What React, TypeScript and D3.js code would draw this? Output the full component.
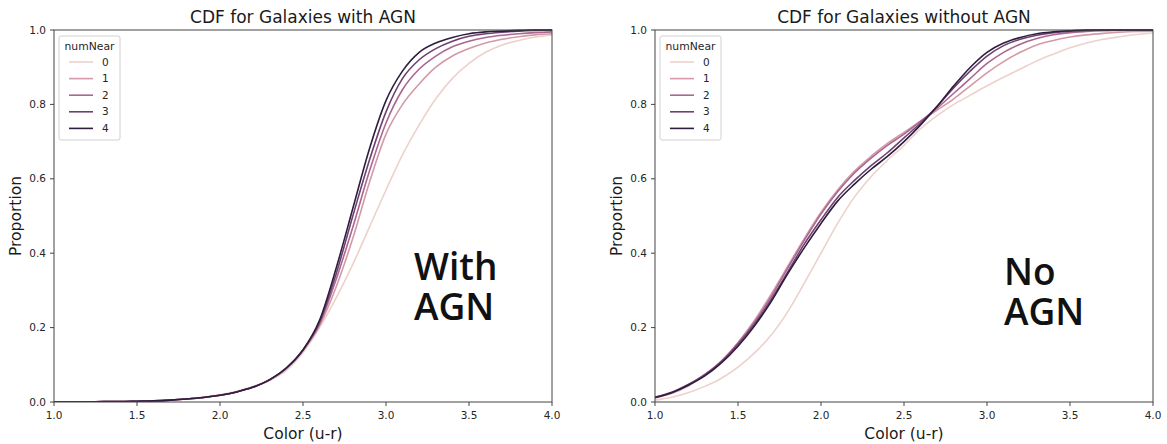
import React from "react";
import * as d3 from "d3";

const XS = [1.0, 1.1, 1.2, 1.3, 1.4, 1.5, 1.6, 1.7, 1.8, 1.9, 2.0, 2.1, 2.2, 2.3, 2.4, 2.5, 2.6, 2.7, 2.8, 2.9, 3.0, 3.1, 3.2, 3.3, 3.4, 3.5, 3.6, 3.7, 3.8, 3.9, 4.0];
const HUE_LEVELS = ["0", "1", "2", "3", "4"];
const X_TICKS = [1.0, 1.5, 2.0, 2.5, 3.0, 3.5, 4.0];
const Y_TICKS = [0.0, 0.2, 0.4, 0.6, 0.8, 1.0];

// CDF for galaxies with AGN
const AGN_0 = [0, 0, 0, 0.001, 0.001, 0.002, 0.003, 0.005, 0.008, 0.013, 0.02, 0.029, 0.042, 0.058, 0.085, 0.133, 0.2, 0.28, 0.37, 0.47, 0.57, 0.665, 0.745, 0.815, 0.87, 0.91, 0.94, 0.96, 0.972, 0.981, 0.987];
const AGN_1 = [0, 0, 0, 0.001, 0.001, 0.002, 0.003, 0.005, 0.008, 0.012, 0.018, 0.027, 0.04, 0.06, 0.09, 0.138, 0.205, 0.31, 0.44, 0.59, 0.72, 0.8, 0.855, 0.9, 0.93, 0.95, 0.965, 0.975, 0.982, 0.987, 0.99];
const AGN_2 = [0, 0, 0, 0.001, 0.001, 0.002, 0.003, 0.005, 0.008, 0.012, 0.018, 0.027, 0.04, 0.06, 0.09, 0.14, 0.21, 0.33, 0.47, 0.62, 0.75, 0.84, 0.895, 0.93, 0.955, 0.97, 0.98, 0.986, 0.99, 0.993, 0.995];
const AGN_3 = [0, 0, 0, 0.001, 0.001, 0.002, 0.003, 0.005, 0.008, 0.012, 0.018, 0.027, 0.04, 0.06, 0.091, 0.14, 0.215, 0.345, 0.5, 0.65, 0.78, 0.87, 0.92, 0.95, 0.97, 0.983, 0.99, 0.994, 0.997, 0.999, 1.0];
const AGN_4 = [0, 0, 0, 0.001, 0.001, 0.002, 0.003, 0.005, 0.008, 0.012, 0.018, 0.027, 0.04, 0.06, 0.092, 0.14, 0.22, 0.36, 0.52, 0.68, 0.81, 0.89, 0.94, 0.965, 0.98, 0.99, 0.995, 0.997, 0.999, 1.0, 1.0];

// CDF for galaxies without AGN
const NO_0 = [0.005, 0.013, 0.025, 0.042, 0.064, 0.094, 0.132, 0.18, 0.243, 0.32, 0.4, 0.48, 0.55, 0.605, 0.65, 0.69, 0.735, 0.77, 0.8, 0.825, 0.85, 0.873, 0.895, 0.917, 0.935, 0.952, 0.965, 0.975, 0.982, 0.988, 0.992];
const NO_1 = [0.011, 0.023, 0.043, 0.072, 0.11, 0.16, 0.22, 0.29, 0.365, 0.44, 0.51, 0.57, 0.62, 0.66, 0.695, 0.725, 0.755, 0.785, 0.815, 0.85, 0.885, 0.915, 0.94, 0.96, 0.972, 0.981, 0.987, 0.991, 0.994, 0.996, 0.997];
const NO_2 = [0.012, 0.025, 0.046, 0.074, 0.11, 0.158, 0.215, 0.283, 0.36, 0.435, 0.505, 0.565, 0.615, 0.655, 0.69, 0.72, 0.755, 0.79, 0.83, 0.87, 0.91, 0.94, 0.962, 0.977, 0.987, 0.993, 0.996, 0.998, 0.999, 1.0, 1.0];
const NO_3 = [0.013, 0.026, 0.047, 0.073, 0.108, 0.155, 0.21, 0.275, 0.35, 0.425, 0.49, 0.55, 0.595, 0.635, 0.67, 0.71, 0.75, 0.795, 0.845, 0.89, 0.93, 0.958, 0.975, 0.986, 0.993, 0.997, 0.999, 1.0, 1.0, 1.0, 1.0];
const NO_4 = [0.012, 0.025, 0.045, 0.07, 0.105, 0.15, 0.205, 0.27, 0.345, 0.415, 0.48, 0.54, 0.585, 0.625, 0.66, 0.7, 0.745, 0.795, 0.85, 0.9, 0.94, 0.965, 0.98, 0.99, 0.995, 0.998, 1.0, 1.0, 1.0, 1.0, 1.0];

const W = 1167;
const H = 444;
const TOP = 30;
const BOTTOM = 402;
const AX_W = 498;
const FONT = "'DejaVu Sans', sans-serif";

// seaborn default cubehelix colormap (start=0, rot=.4, hue=.8, light=.85, dark=.15)
function cubehelixColor(t: number): string {
  const x = 0.85 - 0.7 * t;
  const a = (0.8 * x * (1 - x)) / 2;
  const phi = 2 * Math.PI * (0.4 * x);
  const c = Math.cos(phi);
  const s = Math.sin(phi);
  const r = x + a * (-0.14861 * c + 1.78277 * s);
  const g = x + a * (-0.29227 * c - 0.90649 * s);
  const b = x + a * (1.97294 * c);
  const cl = (v: number) => Math.round(Math.max(0, Math.min(1, v)) * 255);
  return d3.rgb(cl(r), cl(g), cl(b)).formatHex();
}

const COLORS = HUE_LEVELS.map((_, i) => cubehelixColor(i / (HUE_LEVELS.length - 1)));

const PANELS = [
  { left: 54, title: "CDF for Galaxies with AGN", series: [AGN_0, AGN_1, AGN_2, AGN_3, AGN_4], note: ["With", "AGN"], noteX: 414, noteY: 280 },
  { left: 655, title: "CDF for Galaxies without AGN", series: [NO_0, NO_1, NO_2, NO_3, NO_4], note: ["No", "AGN"], noteX: 1004, noteY: 285 },
];

function Panel({ p }: { p: (typeof PANELS)[number] }) {
  const x = d3.scaleLinear().domain([1, 4]).range([p.left, p.left + AX_W]);
  const y = d3.scaleLinear().domain([0, 1]).range([BOTTOM, TOP]);
  const line = d3
    .line<number>()
    .x((_, i) => x(XS[i]))
    .y((d) => y(d))
    .curve(d3.curveMonotoneX);
  const cx = p.left + AX_W / 2;
  const lx = p.left + 5;
  const ly = TOP + 6;
  return (
    <g>
      <defs>
        <clipPath id={`clip-${p.left}`}>
          <rect x={p.left} y={TOP - 2} width={AX_W} height={BOTTOM - TOP + 2} />
        </clipPath>
      </defs>
      <g clipPath={`url(#clip-${p.left})`}>
        {p.series.map((s, i) => (
          <path key={i} d={line(s) || ""} fill="none" stroke={COLORS[i]} strokeWidth={1.6} />
        ))}
      </g>
      <rect x={p.left} y={TOP} width={AX_W} height={BOTTOM - TOP} fill="none" stroke="#444" strokeWidth={1} />
      {X_TICKS.map((t) => (
        <g key={t}>
          <line x1={x(t)} x2={x(t)} y1={BOTTOM} y2={BOTTOM + 4} stroke="#444" />
          <text x={x(t)} y={BOTTOM + 17} textAnchor="middle" fontSize={10.5} fill="#262626" fontFamily={FONT}>
            {t.toFixed(1)}
          </text>
        </g>
      ))}
      {Y_TICKS.map((t) => (
        <g key={t}>
          <line x1={p.left - 4} x2={p.left} y1={y(t)} y2={y(t)} stroke="#444" />
          <text x={p.left - 8} y={y(t)} dy="0.35em" textAnchor="end" fontSize={10.5} fill="#262626" fontFamily={FONT}>
            {t.toFixed(1)}
          </text>
        </g>
      ))}
      <text x={cx} y={23} textAnchor="middle" fontSize={17} fill="#1a1a1a" fontFamily={FONT}>
        {p.title}
      </text>
      <text x={cx} y={439} textAnchor="middle" fontSize={15.5} fill="#1a1a1a" fontFamily={FONT}>
        Color (u-r)
      </text>
      <text
        transform={`translate(${p.left - 33},${(TOP + BOTTOM) / 2}) rotate(-90)`}
        textAnchor="middle"
        fontSize={15.5}
        fill="#1a1a1a"
        fontFamily={FONT}
      >
        Proportion
      </text>
      <rect x={lx} y={ly} width={61} height={104} rx={2} fill="#fff" fillOpacity={0.8} stroke="#d0d0d0" />
      <text x={lx + 30.5} y={ly + 14} textAnchor="middle" fontSize={10.8} fill="#262626" fontFamily={FONT}>
        numNear
      </text>
      {HUE_LEVELS.map((h, i) => (
        <g key={h}>
          <line x1={lx + 10} x2={lx + 34} y1={ly + 26 + i * 16.6} y2={ly + 26 + i * 16.6} stroke={COLORS[i]} strokeWidth={1.6} />
          <text x={lx + 43} y={ly + 26 + i * 16.6} dy="0.35em" fontSize={10.5} fill="#262626" fontFamily={FONT}>
            {h}
          </text>
        </g>
      ))}
      <text x={p.noteX} y={p.noteY} fontSize={37} fontWeight={600} fill="#111" fontFamily="'Open Sans', sans-serif">
        {p.note[0]}
      </text>
      <text x={p.noteX} y={p.noteY + 40} fontSize={37} fontWeight={600} fill="#111" fontFamily="'Open Sans', sans-serif">
        {p.note[1]}
      </text>
    </g>
  );
}

export default function App() {
  return (
    <svg width={W} height={H} style={{ position: "absolute", left: 0, top: 0, background: "#fff" }}>
      <rect width={W} height={H} fill="#fff" />
      {PANELS.map((p) => (
        <Panel key={p.left} p={p} />
      ))}
    </svg>
  );
}
